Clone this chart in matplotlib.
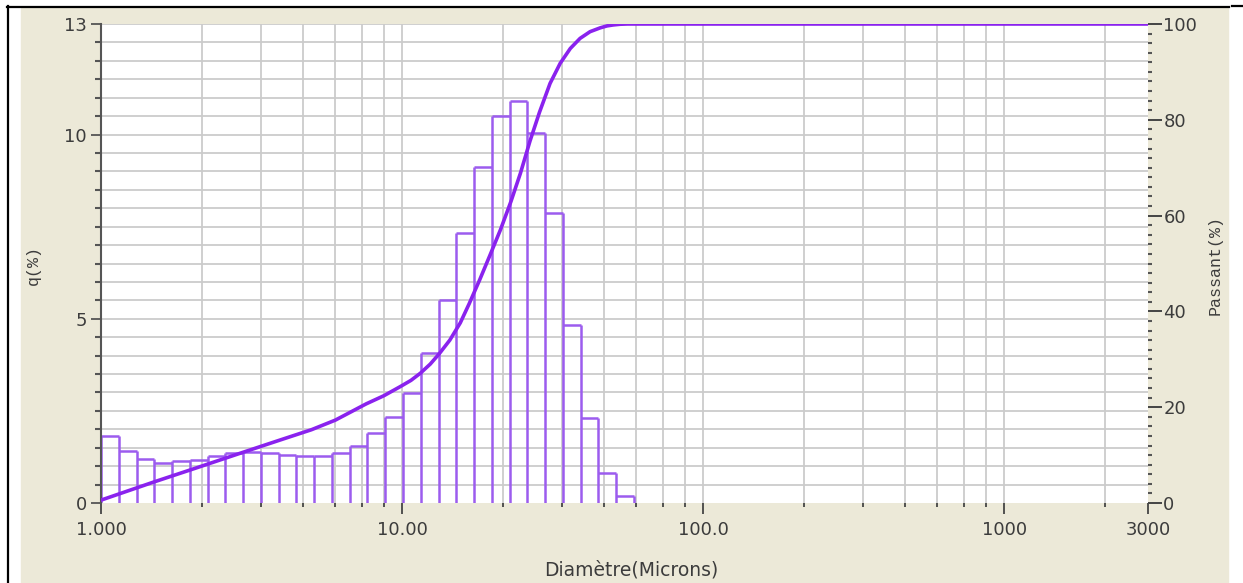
import numpy as np
import matplotlib
matplotlib.use("Agg")
import matplotlib.pyplot as plt
from matplotlib.patches import Rectangle
from matplotlib.lines import Line2D
from matplotlib.ticker import FixedLocator, NullFormatter

# bin edges (microns) and q(%) per bin
edges = [1.000, 1.146, 1.312, 1.503, 1.722, 1.972, 2.259, 2.588, 2.965, 3.396,
         3.890, 4.457, 5.105, 5.848, 6.699, 7.674, 8.790, 10.07, 11.53, 13.21,
         15.14, 17.34, 19.86, 22.75, 26.06, 29.85, 34.20, 39.17, 44.87, 51.40,
         58.88]
q = [1.82, 1.42, 1.19, 1.08, 1.13, 1.18, 1.28, 1.35, 1.38, 1.35,
     1.31, 1.28, 1.28, 1.37, 1.56, 1.91, 2.33, 2.98, 4.06, 5.51,
     7.32, 9.11, 10.50, 10.92, 10.05, 7.86, 4.83, 2.30, 0.82, 0.19]

# cumulative passing curve (Passant %)
curve_d = [1.0, 1.5, 2.0, 3.0, 4.0, 5.0, 6.0, 7.6, 8.7, 9.86, 10.7, 11.5,
           12.4, 13.3, 14.4, 15.6, 16.7, 18.1, 19.6, 21.2, 23.0, 24.7, 26.6,
           28.6, 31.0, 33.5, 36.2, 39.0, 42.1, 45.5, 47.9, 50.2, 53.0, 56.0,
           3000]
curve_p = [0.6, 4.4, 7.0, 10.7, 13.3, 15.3, 17.3, 20.7, 22.4, 24.3, 25.6, 27.1,
           29.0, 31.2, 34.0, 37.6, 41.6, 46.6, 51.8, 57.0, 63.0, 68.8, 75.6,
           81.6, 87.6, 91.8, 94.9, 97.0, 98.4, 99.2, 99.6, 99.8, 99.95, 100,
           100]

xticks = [1, 10, 100, 1000, 3000]
xticklabels = ["1.000", "10.00", "100.0", "1000", "3000"]
qticks = [0, 5, 10, 13]
pticks = [0, 20, 40, 60, 80, 100]

W, H = 1243, 583
BEIGE = "#ECE9D8"
GRID = "#CBCBCB"
TXT = "#3C3C3C"
BAR = "#9C5CEE"
CURVE = "#8A22EE"
# the original software spaces its minor grid a bit wider than the axis decade
STRETCH = 335 / 301

fig = plt.figure(figsize=(W / 100, H / 100), dpi=100)
fig.patch.set_facecolor("white")
fig.patches.append(Rectangle((21 / W, 0), (1228 - 21) / W, (H - 8) / H,
                             transform=fig.transFigure, color=BEIGE, zorder=-10))
fig.lines.append(Line2D([7 / W, 1229 / W], [1 - 6.5 / H] * 2,
                        transform=fig.transFigure, color="black", lw=1.6))
fig.lines.append(Line2D([1232 / W, 1.0], [1 - 5.5 / H] * 2,
                        transform=fig.transFigure, color="black", lw=1.6))
fig.lines.append(Line2D([7.5 / W] * 2, [0, 1 - 6 / H],
                        transform=fig.transFigure, color="black", lw=1.6))

ax = fig.add_axes([101 / W, 1 - 503 / H, (1148 - 101) / W, (503 - 24) / H])
ax.set_facecolor("white")
ax.set_xscale("log")
ax.set_xlim(1, 3000)
ax.set_ylim(0, 13)

# grid
for yv in np.arange(0.5, 13.01, 0.5):
    ax.axhline(yv, color=GRID, lw=1.3, zorder=0)
minor_x = []
for k in range(4):
    for m in range(2, 8):
        xv = 10 ** (k + np.log10(m) * STRETCH)
        if xv < 3000:
            minor_x.append(xv)
for xv in minor_x + [10, 100, 1000]:
    ax.axvline(xv, color=GRID, lw=1.3, zorder=0)

# histogram outline
e = np.array(edges)
h = np.array(q)
left = np.concatenate([[0], h])
right = np.concatenate([h, [0]])
ax.vlines(e, 0, np.maximum(left, right), color=BAR, lw=1.8, zorder=2)
ax.hlines(h, e[:-1], e[1:], color=BAR, lw=1.8, zorder=2)

for s in ["top", "right", "bottom"]:
    ax.spines[s].set_visible(False)
ax.spines["left"].set_color("#555555")
ax.spines["left"].set_linewidth(1.5)

ax.xaxis.set_major_locator(FixedLocator(xticks))
ax.set_xticklabels(xticklabels)
ax.xaxis.set_minor_locator(FixedLocator(minor_x))
ax.xaxis.set_minor_formatter(NullFormatter())
ax.tick_params(axis="x", which="major", length=8, width=1.3, color="#444444",
               labelsize=13, labelcolor=TXT, pad=5)
ax.tick_params(axis="x", which="minor", length=3, width=1.3, color="#444444")

ax.yaxis.set_major_locator(FixedLocator(qticks))
ax.yaxis.set_minor_locator(FixedLocator(np.arange(0, 13.01, 0.5)))
ax.tick_params(axis="y", which="major", length=7, width=1.3, color="#555555",
               labelsize=13, labelcolor=TXT, pad=3)
ax.tick_params(axis="y", which="minor", length=4, width=1.5, color="#555555")

ax2 = ax.twinx()
ax2.set_ylim(0, 100)
ax2.plot(curve_d, curve_p, color=CURVE, lw=2.6, solid_capstyle="round",
         solid_joinstyle="round", zorder=3)
for s in ax2.spines.values():
    s.set_visible(False)
ax2.yaxis.set_major_locator(FixedLocator(pticks))
ax2.yaxis.set_minor_locator(FixedLocator(np.arange(0, 100.1, 2)))
ax2.tick_params(axis="y", which="major", length=10, width=1.4, color="#444444",
                labelsize=13, labelcolor=TXT, pad=1)
ax2.tick_params(axis="y", which="minor", length=3, width=1.5, color="#555555")

fig.text(631 / W, 1 - 570 / H, "Diamètre(Microns)", ha="center", va="center",
         fontsize=13.5, color=TXT)
fig.text(33 / W, 1 - 265 / H, "q(%)", rotation=90, ha="center", va="center",
         fontsize=12, color=TXT, family="Liberation Mono")
fig.text(1215 / W, 1 - 265 / H, "Passant(%)", rotation=90, ha="center",
         va="center", fontsize=12, color=TXT, family="Liberation Mono")

fig.savefig("out.png", dpi=100)
